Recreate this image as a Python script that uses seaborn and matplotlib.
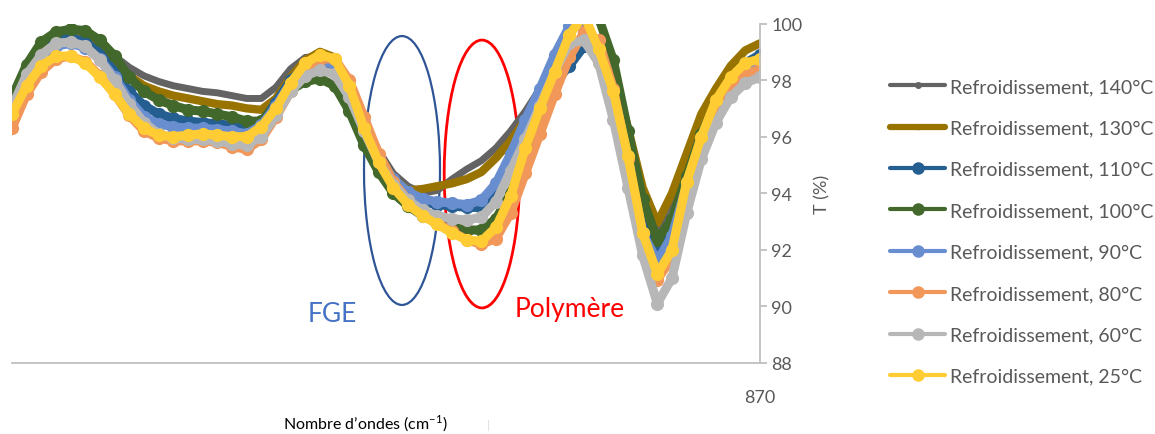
import matplotlib
matplotlib.use("Agg")
import matplotlib.pyplot as plt
from matplotlib.patches import Ellipse
from matplotlib.lines import Line2D
import pandas as pd
import seaborn as sns

# ---------------- data ----------------
wavenumbers = list(range(972, 868, -2))  # 972 ... 870 cm-1

t140 = [97.3, 98.4, 99.1, 99.55, 99.65, 99.55, 99.3, 98.85, 98.45, 98.15,
        97.95, 97.8, 97.7, 97.6, 97.55, 97.45, 97.35, 97.35, 97.75, 98.4,
        98.8, 98.85, 98.6, 97.8, 96.6, 95.5, 94.7, 94.25, 94.0, 94.1,
        94.5, 94.85, 95.15, 95.6, 96.2, 96.9, 97.7, 98.5, 99.2, 99.5,
        99.0, 97.9, 96.0, 94.0, 92.7, 93.8, 95.3, 96.6, 97.6, 98.2,
        98.5, 98.6]
t130 = [97.2, 98.3, 99.0, 99.45, 99.55, 99.4, 99.0, 98.6, 98.15, 97.8,
        97.6, 97.45, 97.35, 97.25, 97.15, 97.1, 97.0, 96.95, 97.35, 98.1,
        98.7, 99.0, 98.8, 97.9, 96.6, 95.4, 94.5, 94.1, 94.15, 94.25,
        94.35, 94.5, 94.75, 95.25, 95.85, 96.6, 97.4, 98.1, 98.7, 99.2,
        99.2, 98.2, 96.3, 94.2, 92.95, 94.0, 95.4, 96.8, 97.7, 98.5,
        99.05, 99.3]
t110 = [97.2, 98.3, 99.0, 99.4, 99.5, 99.35, 98.95, 98.3, 97.6, 97.1,
        96.8, 96.65, 96.55, 96.5, 96.45, 96.4, 96.3, 96.5, 97.2, 98.0,
        98.5, 98.65, 98.4, 97.5, 96.3, 95.2, 94.4, 93.95, 93.7, 93.6,
        93.55, 93.5, 93.5, 93.9, 94.8, 95.9, 97.0, 97.9, 98.5, 99.2,
        99.3, 98.0, 95.8, 93.4, 91.85, 92.7, 94.5, 95.9, 97.1, 98.0,
        98.6, 98.9]
t100 = [97.4, 98.55, 99.35, 99.7, 99.8, 99.75, 99.4, 98.85, 98.1, 97.6,
        97.3, 97.1, 96.95, 96.9, 96.8, 96.7, 96.55, 96.55, 97.1, 97.65,
        97.95, 98.05, 97.8, 96.9, 95.7, 94.75, 94.0, 93.55, 93.2, 92.95,
        92.8, 92.7, 92.7, 93.1, 94.0, 95.3, 96.8, 98.3, 99.7, 100.4,
        100.2, 98.7, 96.2, 93.8, 92.35, 93.1, 94.6, 96.1, 97.2, 97.9,
        98.4, 98.6]
t90 = [97.0, 98.1, 98.8, 99.2, 99.3, 99.15, 98.75, 98.1, 97.3, 96.7,
       96.45, 96.35, 96.3, 96.3, 96.25, 96.2, 96.1, 96.4, 97.1, 97.9,
       98.5, 98.7, 98.55, 97.7, 96.5, 95.3, 94.5, 94.05, 93.8, 93.7,
       93.65, 93.6, 93.75, 94.35, 95.4, 96.6, 97.7, 98.9, 99.9, 99.9,
       99.0, 97.2, 94.9, 92.6, 91.6, 92.5, 94.3, 95.8, 97.0, 97.9,
       98.5, 98.7]
t80 = [96.3, 97.5, 98.3, 98.75, 98.85, 98.65, 98.15, 97.5, 96.75, 96.2,
       95.95, 95.85, 95.85, 95.85, 95.8, 95.65, 95.55, 95.9, 96.7, 97.6,
       98.35, 98.75, 98.75, 98.0, 96.7, 95.4, 94.4, 93.75, 93.3, 92.95,
       92.65, 92.35, 92.2, 92.4, 93.3, 94.7, 96.1, 97.5, 98.8, 99.7,
       99.4, 97.7, 95.2, 92.6, 90.95, 91.7, 93.9, 95.6, 96.9, 97.7,
       98.2, 98.4]
t60 = [97.05, 98.2, 98.9, 99.3, 99.35, 99.2, 98.7, 98.0, 97.15, 96.5,
       96.1, 95.95, 95.9, 95.9, 95.85, 95.75, 95.7, 96.0, 96.75, 97.6,
       98.15, 98.35, 98.2, 97.4, 96.2, 95.1, 94.3, 93.75, 93.4, 93.2,
       93.1, 93.05, 93.15, 93.7, 94.8, 95.9, 97.1, 98.3, 99.3, 99.4,
       98.6, 96.6, 94.2, 91.8, 90.1, 91.0, 93.3, 95.2, 96.5, 97.4,
       97.9, 98.1]
t25 = [96.8, 97.8, 98.5, 98.85, 98.85, 98.6, 98.1, 97.5, 96.8, 96.3,
       96.05, 96.0, 96.05, 96.1, 96.05, 96.0, 96.0, 96.35, 97.0, 97.9,
       98.6, 98.9, 98.75, 97.8, 96.3, 95.1, 94.2, 93.6, 93.2, 92.9,
       92.6, 92.35, 92.3, 92.8, 93.9, 95.6, 97.0, 98.3, 99.6, 100.3,
       99.1, 97.6, 95.3, 92.6, 91.15, 92.0, 94.4, 96.0, 97.3, 98.1,
       98.6, 98.75]

labels = ["Refroidissement, 140°C", "Refroidissement, 130°C",
          "Refroidissement, 110°C", "Refroidissement, 100°C",
          "Refroidissement, 90°C", "Refroidissement, 80°C",
          "Refroidissement, 60°C", "Refroidissement, 25°C"]
series = [t140, t130, t110, t100, t90, t80, t60, t25]
colors = ["#636363", "#997300", "#255E91", "#43682B",
          "#698ED0", "#F1975A", "#B7B7B7", "#FFCD33"]
y_ticks = [88, 90, 92, 94, 96, 98, 100]
x_ticks = [870]

# ---------------- style ----------------
sns.set_style("white")
plt.rcParams["font.family"] = ["Lato", "DejaVu Sans"]
plt.rcParams["mathtext.fontset"] = "custom"
plt.rcParams["mathtext.rm"] = "Lato"

W, H = 1155, 435
fig = plt.figure(figsize=(W / 100, H / 100), dpi=100)
ax = fig.add_axes([12 / W, 71 / H, 748 / W, 339.5 / H])

df = pd.DataFrame({"wn": wavenumbers})
for lab, vals in zip(labels, series):
    df[lab] = vals

line_w = [5.0, 6.0, 6.5, 6.5, 6.5, 6.5, 6.5, 6.5]
mark_s = [0, 0, 9.5, 9.5, 9.5, 9.5, 9.5, 9.5]
for lab, col, lw, ms in zip(labels, colors, line_w, mark_s):
    sns.lineplot(data=df, x="wn", y=lab, ax=ax, color=col, linewidth=lw,
                 marker="o" if ms else None, markersize=ms,
                 markeredgewidth=0, sort=False, legend=False)

ax.set_xlim(972, 870)
ax.set_ylim(88, 100)
ax.set_yticks(y_ticks)
ax.set_xticks(x_ticks)
ax.set_xticklabels([str(v) for v in x_ticks])
ax.set_xlabel("")

grey_axis = "#BFBFBF"
txt_grey = "#595959"
for s in ["left", "top"]:
    ax.spines[s].set_visible(False)
for s in ["right", "bottom"]:
    ax.spines[s].set_color(grey_axis)
    ax.spines[s].set_linewidth(1.3)

ax.yaxis.tick_right()
ax.yaxis.set_label_position("right")
ax.tick_params(axis="y", length=5, width=1.3, color=grey_axis,
               labelcolor=txt_grey, labelsize=13, pad=3)
ax.tick_params(axis="x", length=5, width=1.3, color=grey_axis,
               labelcolor=txt_grey, labelsize=13, pad=14)
ax.set_ylabel("T (%)", color=txt_grey, fontsize=13, labelpad=9)

# annotations: ellipses and text
ax.add_patch(Ellipse((0.5214, 0.567), 0.1016, 0.792, transform=ax.transAxes,
                     fill=False, edgecolor="#2F5597", lw=1.6, clip_on=False))
ax.add_patch(Ellipse((0.6283, 0.5567), 0.101, 0.789, transform=ax.transAxes,
                     fill=False, edgecolor="#FF0000", lw=2.0, clip_on=False))
fig.text(332 / W, 1 - 322 / H, "FGE", color="#4472C4", fontsize=19,
         ha="center", va="baseline")
fig.text(570 / W, 1 - 317 / H, "Polymère", color="#FF0000", fontsize=19,
         ha="center", va="baseline")

fig.text(365 / W, 1 - 429 / H, r"Nombre d’ondes (cm$^{\mathregular{-1}}$)",
         color="black", fontsize=11.5, ha="center", va="baseline")
fig.add_artist(Line2D([488 / W, 488 / W], [1 - 431 / H, 1 - 421 / H],
                      color="#E3E3E3", lw=0.8))

# legend
handles = []
for i, (lab, col) in enumerate(zip(labels, colors)):
    if i == 0:
        h = Line2D([], [], color=col, lw=3, marker="o", markersize=4)
    elif i == 1:
        h = Line2D([], [], color=col, lw=4.5, marker="o", markersize=3)
    else:
        h = Line2D([], [], color=col, lw=3, marker="o", markersize=8)
    handles.append(h)
fig.legend(handles=handles, labels=labels, loc="upper left",
           bbox_to_anchor=(890 / W, 1 - 79 / H), frameon=False,
           fontsize=14, labelcolor=txt_grey, handlelength=2.83,
           handletextpad=0.25, labelspacing=1.255, borderaxespad=0,
           borderpad=0)

fig.savefig("out.png", dpi=100)
